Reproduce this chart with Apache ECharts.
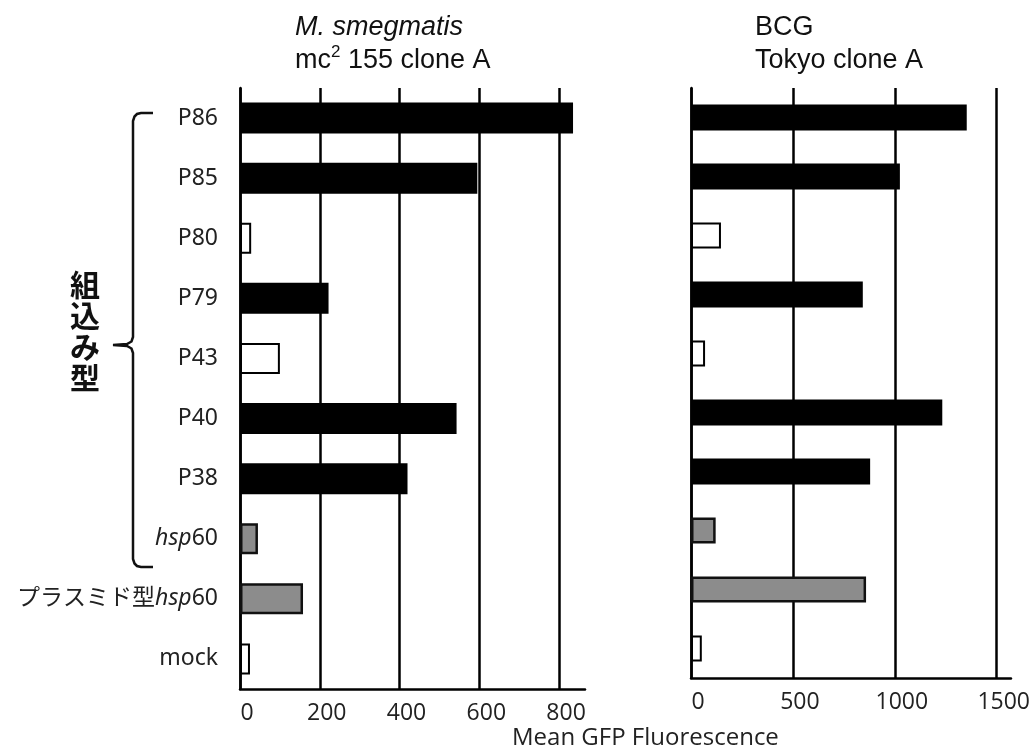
<!DOCTYPE html>
<html>
<head>
<meta charset="utf-8">
<title>Mean GFP Fluorescence</title>
<script src="https://cdn.jsdelivr.net/npm/echarts@6/dist/echarts.min.js"></script>
<style>
  html, body { margin: 0; padding: 0; background: #fff; }
  #main { width: 1033px; height: 753px; }
</style>
</head>
<body>
<div id="main"></div>
<script>
// データ
var categories = ['P86', 'P85', 'P80', 'P79', 'P43', 'P40', 'P38', 'hsp60', 'プラスミド型hsp60', 'mock'];
var smegValues = [835, 595, 28, 222, 100, 543, 420, 45, 158, 25];   // M. smegmatis mc2 155 clone A
var bcgValues = [1353, 1025, 147, 843, 69, 1233, 879, 121, 859, 53]; // BCG Tokyo clone A
var smegTicks = [0, 200, 400, 600, 800];
var bcgTicks = [0, 500, 1000, 1500];

// 棒の塗り (黒 / 白抜き / 灰色)
var barFill = ['black', 'black', 'white', 'black', 'white', 'black', 'black', 'gray', 'gray', 'white'];
var fillStyles = {
    black: { color: '#000' },
    white: { color: '#fff', borderColor: '#000', borderWidth: 2 },
    gray: { color: '#8c8c8c', borderColor: '#111', borderWidth: 2.5 }
};

function barData(values) {
    return values.map(function (v, i) {
        return { value: v, itemStyle: fillStyles[barFill[i]] };
    });
}

function valueAxis(gridIndex, max, interval, ticks) {
    return {
        type: 'value',
        gridIndex: gridIndex,
        min: 0,
        max: max,
        interval: interval,
        axisLine: { show: true, lineStyle: { color: '#000', width: 2.5 } },
        axisTick: { show: false },
        splitLine: { show: true, showMaxLine: false, lineStyle: { color: '#000', width: 2.5 } },
        axisLabel: {
            margin: 13,
            padding: [0, 0, 0, 14],
            fontSize: 23,
            fontFamily: 'Open Sans',
            color: '#222',
            showMaxLabel: false,
            formatter: function (v) {
                return ticks.indexOf(v) >= 0 ? String(v) : '';
            }
        }
    };
}

function catAxis(gridIndex, showLabel) {
    return {
        type: 'category',
        gridIndex: gridIndex,
        data: categories,
        inverse: true,
        axisLine: { show: true, lineStyle: { color: '#000', width: 2.5 } },
        axisTick: { show: false },
        axisLabel: {
            show: showLabel,
            margin: 22,
            fontSize: 23,
            fontFamily: 'Noto Sans, Noto Sans CJK JP',
            color: '#222',
            formatter: function (v) {
                return v.replace('hsp', '{it|hsp}');
            },
            rich: {
                it: { fontStyle: 'italic', fontSize: 23, fontFamily: 'Noto Sans', color: '#222' }
            }
        }
    };
}

var titleRich = {
    it: { fontStyle: 'italic', fontWeight: 'normal', fontSize: 27, lineHeight: 33, fontFamily: 'Liberation Sans', color: '#111' },
    n: { fontWeight: 'normal', fontSize: 27, lineHeight: 33, fontFamily: 'Liberation Sans', color: '#111' },
    sup: { fontWeight: 'normal', fontSize: 17, lineHeight: 20, verticalAlign: 'top', fontFamily: 'Liberation Sans', color: '#111' }
};

// かっこ (組込み型)
var bx = 133, bTop = 113, bMid = 345, bBot = 567;
var bracketPts = [
    [153, bTop], [141, bTop], [137, bTop + 1], [134.5, bTop + 3.5], [bx, bTop + 8],
    [bx, bMid - 8], [131.5, bMid - 3.5], [127, bMid - 1], [113, bMid],
    [127, bMid + 1], [131.5, bMid + 3.5], [bx, bMid + 8],
    [bx, bBot - 8], [134.5, bBot - 3.5], [137, bBot - 1], [141, bBot], [153, bBot]
];

var myChart = echarts.init(document.getElementById('main'));
myChart.setOption({
    animation: false,
    backgroundColor: '#fff',
    title: [
        {
            text: '{it|M. smegmatis}\n{n|mc}{sup|2}{n| 155 clone A}',
            left: 295, top: 11, padding: 0,
            textStyle: { fontWeight: 'normal', rich: titleRich }
        },
        {
            text: '{n|BCG}\n{n|Tokyo clone A}',
            left: 755, top: 11, padding: 0,
            textStyle: { fontWeight: 'normal', rich: titleRich }
        }
    ],
    grid: [
        { left: 240, width: 345, top: 88, height: 601 },
        { left: 691, width: 320, top: 88, height: 590 }
    ],
    xAxis: [
        valueAxis(0, 865, 200, smegTicks),
        valueAxis(1, 1570, 500, bcgTicks)
    ],
    yAxis: [
        catAxis(0, true),
        catAxis(1, false)
    ],
    series: [
        {
            name: 'M. smegmatis',
            type: 'bar',
            xAxisIndex: 0,
            yAxisIndex: 0,
            barWidth: 31,
            data: barData(smegValues)
        },
        {
            name: 'BCG',
            type: 'bar',
            xAxisIndex: 1,
            yAxisIndex: 1,
            barWidth: 26,
            data: barData(bcgValues)
        }
    ],
    graphic: [
        {
            type: 'polyline',
            shape: { points: bracketPts },
            style: { fill: null, stroke: '#111', lineWidth: 2.5 }
        },
        {
            type: 'text',
            x: 85, y: 331,
            style: {
                text: '組\n込\nみ\n型',
                font: 'bold 30px "Noto Sans CJK JP"',
                lineHeight: 31,
                align: 'center',
                verticalAlign: 'middle',
                fill: '#111'
            }
        },
        {
            type: 'text',
            x: 512, y: 738,
            style: {
                text: 'Mean GFP Fluorescence',
                font: '24px "Open Sans"',
                verticalAlign: 'middle',
                fill: '#222'
            }
        }
    ]
});
</script>
</body>
</html>
